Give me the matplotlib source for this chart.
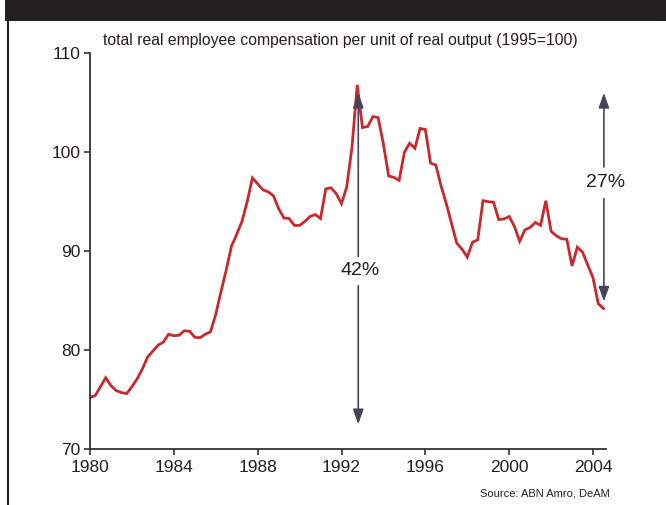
import matplotlib
matplotlib.use("Agg")
import matplotlib.pyplot as plt
import numpy as np
from matplotlib.patches import Rectangle
from matplotlib.lines import Line2D

plt.rcParams['font.family'] = ['Liberation Sans Narrow', 'Liberation Sans', 'DejaVu Sans']

# Quarterly series starting 1980 Q1
start_year = 1980
values = [
    75.2, 75.4, 76.3, 77.2, 76.4, 75.9, 75.7, 75.6,      # 1980-81
    76.3, 77.1, 78.1, 79.3, 79.9, 80.5, 80.8, 81.6,      # 1982-83
    81.45, 81.5, 81.95, 81.9, 81.3, 81.25, 81.6, 81.85,  # 1984-85
    83.6, 85.9, 88.1, 90.5, 91.7, 93.0, 95.0, 97.4,      # 1986-87
    96.8, 96.2, 96.0, 95.6, 94.3, 93.35, 93.3, 92.6,     # 1988-89
    92.6, 93.0, 93.5, 93.7, 93.3, 96.3, 96.4, 95.8,      # 1990-91
    94.8, 96.5, 100.5, 106.8, 102.5, 102.6, 103.6, 103.5,  # 1992-93
    100.8, 97.6, 97.45, 97.15, 100.0, 100.9, 100.4, 102.4,  # 1994-95
    102.3, 98.9, 98.7, 96.6, 94.8, 92.8, 90.8, 90.2,     # 1996-97
    89.4, 90.9, 91.15, 95.1, 95.0, 94.95, 93.2, 93.25,   # 1998-99
    93.5, 92.5, 91.0, 92.15, 92.4, 92.9, 92.6, 95.1,     # 2000-01
    92.0, 91.55, 91.25, 91.2, 88.5, 90.4, 89.9, 88.6,    # 2002-03
    87.3, 84.7, 84.2,                                    # 2004
]
x_ticks = [1980, 1984, 1988, 1992, 1996, 2000, 2004]
y_ticks = [70, 80, 90, 100, 110]
title = "total real employee compensation per unit of real output (1995=100)"
source = "Source: ABN Amro, DeAM"

# arrows: (x, top_from, top_to, bottom_from, bottom_to, label, label_y)
arrow42 = (1992.8, 89.45, 106.0, 86.5, 72.5, "42%", 88.0)
arrow27 = (2004.52, 98.5, 106.0, 95.3, 84.9, "27%", 96.9)

W, H = 666, 505
fig = plt.figure(figsize=(W / 100, H / 100), dpi=100)

# header bar and left rule
fig.add_artist(Rectangle((5 / W, 1 - 21 / H), 1, 21 / H, transform=fig.transFigure,
                         facecolor='#231f20', edgecolor='none'))
fig.add_artist(Line2D([7.5 / W, 7.5 / W], [0, 1 - 21 / H], transform=fig.transFigure,
                      color='#231f20', lw=1.5))

ax = fig.add_axes([90 / W, 1 - 449 / H, (606 - 90) / W, (449 - 53.3) / H])
xs = start_year + 0.25 * np.arange(len(values))
ax.plot(xs, values, color='#c9282d', lw=2.0, solid_joinstyle='miter')

ax.set_xlim(1980, 2004.62)
ax.set_ylim(70, 110)
ax.set_xticks(x_ticks)
ax.set_yticks(y_ticks)
ax.set_xticklabels([str(v) for v in x_ticks])
ax.set_yticklabels([str(v) for v in y_ticks])
for s in ['top', 'right']:
    ax.spines[s].set_visible(False)
for s in ['left', 'bottom']:
    ax.spines[s].set_color('#333333')
    ax.spines[s].set_linewidth(1.3)
ax.tick_params(axis='both', length=4, width=1.2, color='#333333', labelsize=12.5,
               labelcolor='#231f20')
ax.tick_params(axis='y', pad=3)
ax.tick_params(axis='x', pad=4)

arrow_color = '#4a4358'
for (xa, tf, tt, bf, bt, lab, ly) in [arrow42, arrow27]:
    for f, t in [(tf, tt), (bf, bt)]:
        ax.annotate('', xy=(xa, t), xytext=(xa, f),
                    arrowprops=dict(arrowstyle='-|>,head_length=0.9,head_width=0.32',
                                    color=arrow_color, lw=1.2, shrinkA=0, shrinkB=0),
                    annotation_clip=False)
    ax.text(xa + 0.1, ly, lab, ha='center', va='center', fontsize=14, color='#231f20',
            clip_on=False)

fig.text(340 / W, 1 - 40 / H, title, ha='center', va='center', fontsize=11.3, color='#231f20')
fig.text(610 / W, 1 - 494 / H, source, ha='right', va='center', fontsize=8, color='#231f20')

fig.savefig('out.png', dpi=100)
